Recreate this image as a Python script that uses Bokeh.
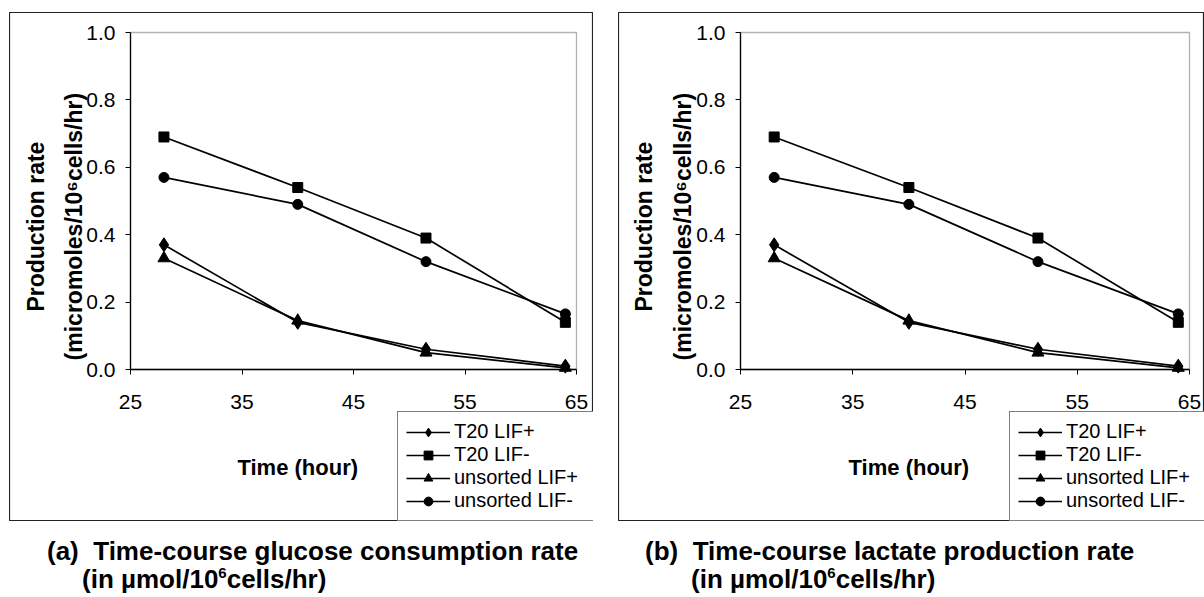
import math
from bokeh.plotting import figure
from bokeh.models import (Range1d, FixedTicker, NumeralTickFormatter, Legend, LegendItem,
                          Label, BoxAnnotation, Div)
from bokeh.layouts import row, column
from bokeh.embed import file_html
from bokeh.resources import INLINE

# ---------------- data ----------------
time_hours = [28, 40, 51.5, 64]
series_labels = ["T20 LIF+", "T20 LIF-", "unsorted LIF+", "unsorted LIF-"]
series_markers = ["diamond", "square", "triangle", "circle"]
marker_sizes = [14, 10, 12, 10]

glucose_t20_lif_plus = [0.37, 0.14, 0.06, 0.01]
glucose_t20_lif_minus = [0.69, 0.54, 0.39, 0.14]
glucose_unsorted_lif_plus = [0.33, 0.145, 0.05, 0.005]
glucose_unsorted_lif_minus = [0.57, 0.49, 0.32, 0.165]

lactate_t20_lif_plus = [0.37, 0.14, 0.06, 0.01]
lactate_t20_lif_minus = [0.69, 0.54, 0.39, 0.14]
lactate_unsorted_lif_plus = [0.33, 0.145, 0.05, 0.005]
lactate_unsorted_lif_minus = [0.57, 0.49, 0.32, 0.165]

x_min, x_max = 25, 65
y_min, y_max = 0.0, 1.0
x_ticks = [25, 35, 45, 55, 65]
y_ticks = [0.0, 0.2, 0.4, 0.6, 0.8, 1.0]
x_title = "Time (hour)"
y_title_line1 = "Production rate"
y_title_line2 = "(micromoles/10\u2076cells/hr)"
caption_a_line1 = "(a)&nbsp;&nbsp;Time-course glucose consumption rate"
caption_b_line1 = "(b)&nbsp;&nbsp;Time-course lactate production rate"
caption_line2 = "(in \u00b5mol/10<span style='font-size:15px;position:relative;top:-10px'>6</span>cells/hr)"

FONT = "Liberation Sans"
PANEL_H = 509          # chart-area height (outer box)
PAD_TOP, PAD_BOTTOM = 20, 152   # chart-area padding around the plot area


def make_panel(series, canvas_w, pad_left, pad_right, legend_x, ytitle_offsets):
    plot_w = canvas_w - pad_left - pad_right
    plot_h = PANEL_H - PAD_TOP - PAD_BOTTOM
    ux = (x_max - x_min) / plot_w
    uy = (y_max - y_min) / plot_h
    p = figure(width=canvas_w, height=PANEL_H,
               x_range=Range1d(x_min - pad_left * ux, x_max + pad_right * ux),
               y_range=Range1d(y_min - PAD_BOTTOM * uy, y_max + PAD_TOP * uy),
               output_backend="svg", toolbar_location=None, min_border=0,
               background_fill_color="white", border_fill_color="white",
               outline_line_color="#222222", outline_line_width=1.2)
    p.xgrid.visible = False
    p.ygrid.visible = False
    p.xaxis.fixed_location = y_min
    p.yaxis.fixed_location = x_min
    p.xaxis.bounds = (x_min, x_max)
    p.yaxis.bounds = (y_min, y_max)
    p.xaxis.ticker = FixedTicker(ticks=x_ticks)
    p.yaxis.ticker = FixedTicker(ticks=y_ticks)
    p.yaxis.formatter = NumeralTickFormatter(format="0.0")
    for ax in p.axis:
        ax.major_label_text_font = FONT
        ax.major_label_text_font_size = "21px"
        ax.major_label_text_color = "black"
        ax.axis_line_color = "black"
        ax.axis_line_width = 1.3
        ax.major_tick_line_color = "black"
        ax.major_tick_out = 5
        ax.major_tick_in = 0
        ax.minor_tick_line_color = None
        ax.minor_tick_out = 0
        ax.minor_tick_in = 0
    p.xaxis.major_label_standoff = 20
    p.yaxis.major_label_standoff = 10

    # plot-area box
    p.add_layout(BoxAnnotation(left=x_min, right=x_max, bottom=y_min, top=y_max,
                               fill_alpha=0, line_color="black", line_width=1.3, level="underlay"))

    items = []
    for vals, lab, mk, ms in zip(series, series_labels, series_markers, marker_sizes):
        rl = p.line(time_hours, vals, line_color="black", line_width=1.7)
        rs = p.scatter(time_hours, vals, marker=mk, size=ms, fill_color="black", line_color="black")
        items.append(LegendItem(label=lab, renderers=[rl, rs]))

    legend = Legend(items=items, location=(legend_x, 0), margin=0, padding=8, spacing=0,
                    glyph_width=44, glyph_height=22, label_height=22, label_width=132,
                    label_standoff=4, border_line_color="black", border_line_width=1,
                    background_fill_color="white", background_fill_alpha=1.0,
                    label_text_font=FONT, label_text_font_size="20px", label_text_color="black")
    p.add_layout(legend)

    y_mid = 0.424
    p.add_layout(Label(x=x_min, y=y_mid, x_offset=ytitle_offsets[0], text=y_title_line1,
                       angle=math.pi / 2, text_align="center", text_baseline="alphabetic",
                       text_font=FONT, text_font_style="bold", text_font_size="23px",
                       text_color="black"))
    p.add_layout(Label(x=x_min, y=y_mid, x_offset=ytitle_offsets[1], text=y_title_line2,
                       angle=math.pi / 2, text_align="center", text_baseline="alphabetic",
                       text_font=FONT, text_font_style="bold", text_font_size="23px",
                       text_color="black"))
    p.add_layout(Label(x=40, y=-0.29, text=x_title, text_align="center", text_baseline="middle",
                       text_font=FONT, text_font_style="bold", text_font_size="22px",
                       text_color="black"))
    return p


def make_caption(line1, indent, left_margin):
    html = ("<div style=\"font-family:'Liberation Sans',Arial,sans-serif;font-weight:bold;"
            "font-size:26px;line-height:28px;color:#000;white-space:nowrap\">"
            + line1 + "<br><span style='padding-left:%dpx'>" % indent + caption_line2
            + "</span></div>")
    return Div(text=html, width=540, height=58, margin=(16, 0, 0, left_margin))


p_a = make_panel([glucose_t20_lif_plus, glucose_t20_lif_minus,
                  glucose_unsorted_lif_plus, glucose_unsorted_lif_minus],
                 584, 121, 17, 388, (-95, -57))
p_a.margin = (12, 0, 0, 9)
p_b = make_panel([lactate_t20_lif_plus, lactate_t20_lif_minus,
                  lactate_unsorted_lif_plus, lactate_unsorted_lif_minus],
                 586, 122, 15, 391, (-97, -58))
p_b.margin = (12, 0, 0, 25)

cap_a = make_caption(caption_a_line1, 35, 47)
cap_b = make_caption(caption_b_line1, 46, 52)

layout = row(column(p_a, cap_a), column(p_b, cap_b))
open("out.html", "w").write(file_html(layout, INLINE))
